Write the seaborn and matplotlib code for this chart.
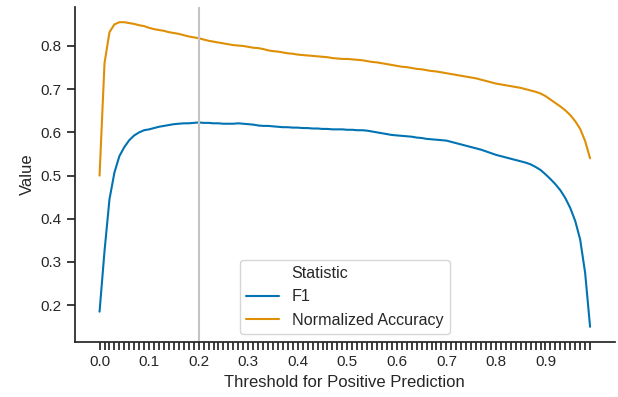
import seaborn as sns
import matplotlib.pyplot as plt
import numpy as np
import pandas as pd
from matplotlib.lines import Line2D

# thresholds 0.00 .. 0.99
thresholds = [round(i / 100, 2) for i in range(100)]

f1 = [0.185, 0.325, 0.445, 0.507, 0.545, 0.566, 0.582, 0.593, 0.600, 0.605,
      0.607, 0.610, 0.613, 0.615, 0.617, 0.619, 0.620, 0.621, 0.621, 0.622,
      0.623, 0.622, 0.622, 0.621, 0.621, 0.620, 0.620, 0.620, 0.621, 0.620,
      0.619, 0.618, 0.616, 0.615, 0.615, 0.614, 0.613, 0.612, 0.612, 0.611,
      0.611, 0.610, 0.610, 0.609, 0.609, 0.608, 0.608, 0.607, 0.607, 0.607,
      0.606, 0.606, 0.605, 0.605, 0.604, 0.602, 0.600, 0.598, 0.596, 0.594,
      0.593, 0.592, 0.591, 0.590, 0.588, 0.587, 0.585, 0.584, 0.583, 0.582,
      0.581, 0.578, 0.575, 0.572, 0.569, 0.566, 0.563, 0.560, 0.556, 0.552,
      0.548, 0.545, 0.542, 0.539, 0.536, 0.533, 0.530, 0.526, 0.520, 0.513,
      0.503, 0.492, 0.480, 0.466, 0.448, 0.425, 0.395, 0.352, 0.275, 0.150]

norm_acc = [0.500, 0.760, 0.832, 0.850, 0.855, 0.855, 0.853, 0.851, 0.848, 0.846,
            0.842, 0.839, 0.837, 0.835, 0.832, 0.830, 0.828, 0.825, 0.822, 0.820,
            0.818, 0.815, 0.812, 0.810, 0.808, 0.806, 0.804, 0.802, 0.801, 0.800,
            0.798, 0.796, 0.795, 0.793, 0.790, 0.788, 0.787, 0.785, 0.783, 0.782,
            0.780, 0.779, 0.778, 0.777, 0.776, 0.775, 0.774, 0.772, 0.771, 0.770,
            0.770, 0.769, 0.768, 0.767, 0.765, 0.763, 0.762, 0.760, 0.758, 0.756,
            0.754, 0.752, 0.751, 0.749, 0.747, 0.746, 0.744, 0.742, 0.741, 0.739,
            0.737, 0.735, 0.733, 0.731, 0.729, 0.727, 0.725, 0.722, 0.719, 0.716,
            0.713, 0.711, 0.709, 0.707, 0.705, 0.703, 0.700, 0.697, 0.694, 0.690,
            0.684, 0.676, 0.668, 0.660, 0.651, 0.640, 0.626, 0.608, 0.580, 0.540]

stat_names = ['F1', 'Normalized Accuracy']

df = pd.DataFrame({
    'Threshold': thresholds * 2,
    'Value': f1 + norm_acc,
    'Statistic': [stat_names[0]] * len(f1) + [stat_names[1]] * len(norm_acc),
})

sns.set_theme(style='ticks', palette='colorblind')
plt.rcParams['font.family'] = ['Liberation Sans', 'DejaVu Sans']

fig, ax = plt.subplots(figsize=(6.18, 3.97), dpi=100)
fig.subplots_adjust(left=0.1214, right=0.9945, bottom=0.1385, top=0.9824)

sns.lineplot(data=df, x='Threshold', y='Value', hue='Statistic', ax=ax, legend=False)
ax.axvline(0.2, color='#c4c4c4', lw=1.5)

ax.set_xticks(thresholds)
ax.set_xticklabels([f'{t:.1f}' if i % 10 == 0 else '' for i, t in enumerate(thresholds)])
ax.set_xlabel('Threshold for Positive Prediction')
ax.set_ylabel('Value')
sns.despine(ax=ax)

# old-style legend: title as a row without handle
cols = sns.color_palette('colorblind')
handles = [Line2D([], [], color='none')] + [Line2D([], [], color=cols[i], lw=1.5) for i in range(2)]
ax.legend(handles, ['Statistic'] + stat_names, loc='lower center', fontsize=11.6)

fig.savefig('out.png', dpi=100)
